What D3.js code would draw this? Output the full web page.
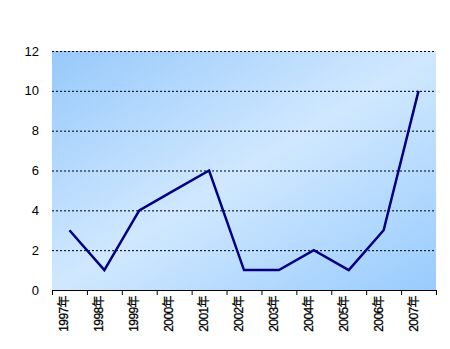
<!DOCTYPE html>
<html>
<head>
<meta charset="utf-8">
<script src="https://cdn.jsdelivr.net/npm/d3@7"></script>
<style>
  body { margin: 0; background: #fff; }
  text { font-family: "Liberation Sans", Arial, "Noto Sans CJK SC", sans-serif; }
</style>
</head>
<body>
<div id="chart"></div>
<script>
// chart data
const years = ["1997年", "1998年", "1999年", "2000年", "2001年", "2002年", "2003年", "2004年", "2005年", "2006年", "2007年"]
const counts = [3, 1, 4, 5, 6, 1, 1, 2, 1, 3, 10]
const yTicks = [0, 2, 4, 6, 8, 10, 12]

const width = 450
const height = 349
const margin = {top: 51, right: 14, bottom: 59, left: 52}

const svg = d3.select("#chart").append("svg")
    .attr("width", width)
    .attr("height", height)

// diagonal blue gradient for the plot area
const grad = svg.append("defs").append("linearGradient")
    .attr("id", "bg")
    .attr("x1", "0%").attr("y1", "0%")
    .attr("x2", "100%").attr("y2", "100%")
grad.append("stop").attr("offset", "0%").attr("stop-color", "#97c9fb")
grad.append("stop").attr("offset", "50%").attr("stop-color", "#d0e8ff")
grad.append("stop").attr("offset", "100%").attr("stop-color", "#98cbfd")

const x = d3.scaleBand()
    .domain(years)
    .range([margin.left, width - margin.right])

const y = d3.scaleLinear()
    .domain([0, 12])
    .range([height - margin.bottom, margin.top])

svg.append("rect")
    .attr("x", margin.left)
    .attr("y", margin.top)
    .attr("width", width - margin.left - margin.right)
    .attr("height", height - margin.top - margin.bottom)
    .attr("fill", "url(#bg)")

// dotted gridlines
svg.append("g")
    .selectAll("line")
    .data(yTicks.filter(t => t > 0))
    .join("line")
    .attr("x1", margin.left)
    .attr("x2", width - margin.right)
    .attr("y1", d => y(d) + 0.5)
    .attr("y2", d => y(d) + 0.5)
    .attr("stroke", "#000")
    .attr("stroke-dasharray", "2,2")

// y labels
svg.append("g")
    .selectAll("text")
    .data(yTicks)
    .join("text")
    .attr("x", 39)
    .attr("y", d => y(d))
    .attr("dy", "0.35em")
    .attr("text-anchor", "end")
    .attr("font-size", 13)
    .text(d => d)

// bottom axis
const xAxis = svg.append("g")
    .attr("transform", `translate(0,${height - margin.bottom})`)
xAxis.append("line")
    .attr("x1", margin.left)
    .attr("x2", width - margin.right)
    .attr("y1", 0.5).attr("y2", 0.5)
    .attr("stroke", "#000")
xAxis.selectAll(".tick")
    .data(years.concat(["end"]))
    .join("line")
    .attr("x1", (d, i) => margin.left + i * x.step() + 0.5)
    .attr("x2", (d, i) => margin.left + i * x.step() + 0.5)
    .attr("y1", 0).attr("y2", 5)
    .attr("stroke", "#000")
xAxis.selectAll("text")
    .data(years)
    .join("text")
    .attr("transform", d => `translate(${x(d) + x.bandwidth() / 2 - 1},6) rotate(-90)`)
    .attr("text-anchor", "end")
    .attr("font-size", 12)
    .attr("letter-spacing", "-0.6")
    .attr("stroke", "#000")
    .attr("stroke-width", 0.3)
    .text(d => d)

// data line
const line = d3.line()
    .x((d, i) => x(years[i]) + x.bandwidth() / 2)
    .y(d => y(d))

svg.append("path")
    .datum(counts)
    .attr("d", line)
    .attr("fill", "none")
    .attr("stroke", "#000080")
    .attr("stroke-width", 2.5)
</script>
</body>
</html>
